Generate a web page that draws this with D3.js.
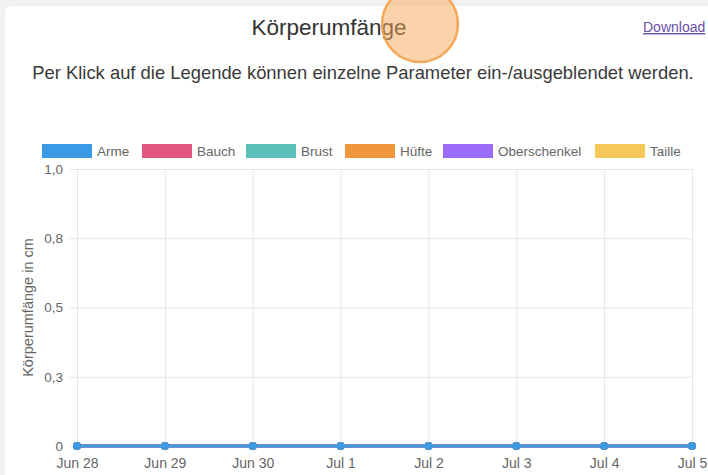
<!DOCTYPE html>
<html>
<head>
<meta charset="utf-8">
<script src="https://cdn.jsdelivr.net/npm/d3@7"></script>
<style>
  body { margin: 0; background: #f1f1f1; }
  svg { display: block; font-family: "Liberation Sans", Arial, sans-serif; }
</style>
</head>
<body>
<svg id="chart"></svg>
<script>
const w = 708;
const h = 475;

// data
const dates = ["2020-06-28", "2020-06-29", "2020-06-30", "2020-07-01", "2020-07-02", "2020-07-03", "2020-07-04", "2020-07-05"];
const seriesNames = ["Arme", "Bauch", "Brust", "Hüfte", "Oberschenkel", "Taille"];
const seriesColors = ["#3a9ae6", "#e0567e", "#5bbfb8", "#f0963d", "#9a6cf7", "#f5c959"];
const arme = [0, 0, 0, 0, 0, 0, 0, 0];
const bauch = [0, 0, 0, 0, 0, 0, 0, 0];
const brust = [0, 0, 0, 0, 0, 0, 0, 0];
const huefte = [0, 0, 0, 0, 0, 0, 0, 0];
const oberschenkel = [0, 0, 0, 0, 0, 0, 0, 0];
const taille = [0, 0, 0, 0, 0, 0, 0, 0];
const yTicks = [0, 0.25, 0.5, 0.75, 1];
const yTickLabels = ["0", "0,3", "0,5", "0,8", "1,0"];

const seriesValues = [arme, bauch, brust, huefte, oberschenkel, taille];
const parse = d3.timeParse("%Y-%m-%d");
const dateObjs = dates.map(parse);

const svg = d3.select("#chart").attr("width", w).attr("height", h);

// card background
svg.append("rect")
  .attr("x", 5).attr("y", 6)
  .attr("width", w + 20).attr("height", h + 20)
  .attr("rx", 6)
  .attr("fill", "#fff");

svg.append("text")
  .attr("x", 329).attr("y", 35)
  .attr("text-anchor", "middle")
  .attr("font-size", 22.5)
  .attr("fill", "#333")
  .text("Körperumfänge");

svg.append("text")
  .attr("x", 643).attr("y", 32)
  .attr("font-size", 14)
  .attr("fill", "#6b4fa8")
  .attr("text-decoration", "underline")
  .text("Download");

svg.append("text")
  .attr("x", 363).attr("y", 79)
  .attr("text-anchor", "middle")
  .attr("font-size", 18.4)
  .attr("fill", "#3a3a3a")
  .text("Per Klick auf die Legende können einzelne Parameter ein-/ausgeblendet werden.");

// touch indicator over the title
svg.append("circle")
  .attr("cx", 420).attr("cy", 24)
  .attr("r", 38)
  .attr("fill", "rgba(246, 168, 88, 0.5)")
  .attr("stroke", "rgba(240, 158, 70, 0.85)")
  .attr("stroke-width", 2.5);

// scales
const xScale = d3.scaleTime()
  .domain(d3.extent(dateObjs))
  .range([77, 692]);

const yScale = d3.scaleLinear()
  .domain([0, 1])
  .range([446, 169]);

// grid
const grid = svg.append("g").attr("stroke", "#e6e6e6").attr("stroke-width", 1);
grid.selectAll(".gx")
  .data(dateObjs)
  .enter()
  .append("line")
  .attr("x1", d => xScale(d) + 0.5).attr("x2", d => xScale(d) + 0.5)
  .attr("y1", yScale(1)).attr("y2", yScale(0) + 7);
grid.selectAll(".gy")
  .data(yTicks)
  .enter()
  .append("line")
  .attr("x1", xScale.range()[0] - 7).attr("x2", xScale.range()[1])
  .attr("y1", d => yScale(d) + 0.5).attr("y2", d => yScale(d) + 0.5);

// axes
const yAxis = d3.axisLeft(yScale)
  .tickValues(yTicks)
  .tickFormat((d, i) => yTickLabels[i])
  .tickSize(0)
  .tickPadding(14);
const gy = svg.append("g")
  .attr("transform", "translate(" + xScale.range()[0] + ",0)")
  .call(yAxis);
gy.select(".domain").remove();
gy.selectAll("text").attr("font-size", 13.5).attr("fill", "#666").attr("font-family", "Liberation Sans, Arial, sans-serif");

const xAxis = d3.axisBottom(xScale)
  .tickValues(dateObjs)
  .tickFormat(d3.timeFormat("%b %-d"))
  .tickSize(0)
  .tickPadding(12);
const gx = svg.append("g")
  .attr("transform", "translate(0," + yScale(0) + ")")
  .call(xAxis);
gx.select(".domain").remove();
gx.selectAll("text").attr("font-size", 14).attr("fill", "#666").attr("font-family", "Liberation Sans, Arial, sans-serif");

svg.append("text")
  .attr("transform", "translate(33," + ((yScale(0) + yScale(1)) / 2) + ") rotate(-90)")
  .attr("text-anchor", "middle")
  .attr("font-size", 14.5)
  .attr("fill", "#666")
  .text("Körperumfänge in cm");

// lines, first series drawn last (on top)
const line = d3.line()
  .x((d, i) => xScale(dateObjs[i]))
  .y(d => yScale(d));

const order = seriesNames.map((s, i) => i).reverse();
order.forEach(i => {
  const g = svg.append("g");
  g.append("path")
    .datum(seriesValues[i])
    .attr("d", line)
    .attr("fill", "none")
    .attr("stroke", seriesColors[i])
    .attr("stroke-width", 3);
  g.selectAll("circle")
    .data(seriesValues[i])
    .enter()
    .append("circle")
    .attr("cx", (d, j) => xScale(dateObjs[j]))
    .attr("cy", d => yScale(d))
    .attr("r", 4)
    .attr("fill", seriesColors[i]);
});

// legend
const legendX = [42, 142, 246, 345, 443, 595];
const legend = svg.append("g");
seriesNames.forEach((s, i) => {
  legend.append("rect")
    .attr("x", legendX[i]).attr("y", 144)
    .attr("width", 50).attr("height", 14)
    .attr("fill", seriesColors[i]);
  legend.append("text")
    .attr("x", legendX[i] + 55).attr("y", 156)
    .attr("font-size", 13.5)
    .attr("fill", "#666")
    .text(s);
});
</script>
</body>
</html>
